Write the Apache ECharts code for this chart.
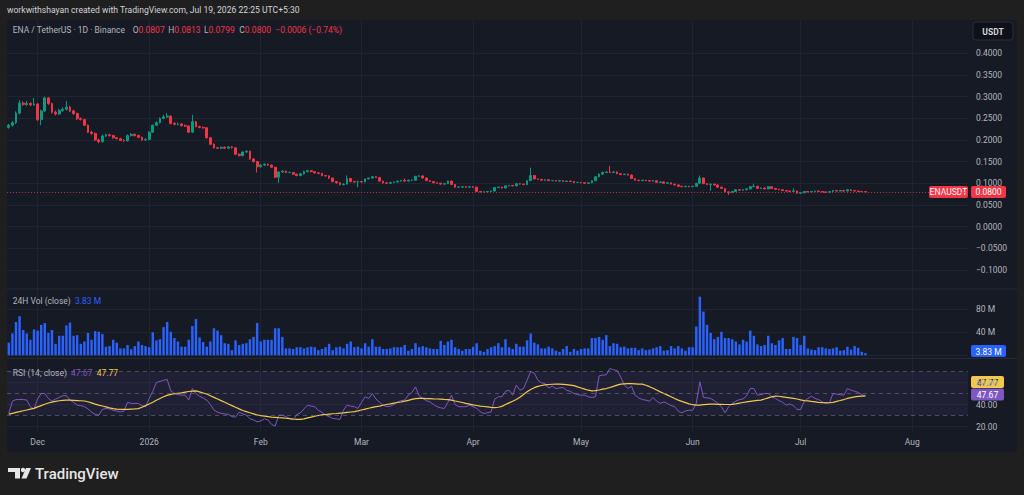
<!DOCTYPE html>
<html>
<head>
<meta charset="utf-8">
<title>ENA / TetherUS 1D</title>
<script src="https://cdn.jsdelivr.net/npm/echarts@6/dist/echarts.min.js"></script>
<style>
  html, body { margin: 0; padding: 0; background: #1f1f1f; }
  #main { width: 1024px; height: 495px; }
</style>
</head>
<body>
<div id="main"></div>
<script>
// daily candles, Nov 23 2025 -> Jul 19 2026
var opens = [
  .229,.234,.240,.262,.285,.282,.284,.281,.283,.247,
  .267,.297,.284,.264,.260,.268,.271,.276,.267,.261,
  .249,.247,.234,.218,.215,.200,.196,.209,.212,.210,
  .205,.203,.199,.198,.210,.213,.210,.206,.200,.201,
  .218,.234,.240,.250,.253,.255,.238,.236,.237,.233,
  .232,.218,.242,.231,.229,.228,.205,.190,.182,.181,
  .183,.181,.184,.182,.167,.164,.172,.174,.156,.150,
  .138,.142,.144,.142,.137,.114,.126,.128,.125,.125,
  .121,.118,.122,.127,.129,.127,.124,.123,.118,.117,
  .112,.104,.101,.097,.098,.111,.104,.103,.104,.103,
  .110,.112,.115,.113,.105,.101,.100,.102,.103,.105,
  .106,.105,.107,.107,.116,.117,.112,.106,.104,.101,
  .100,.098,.099,.105,.097,.091,.091,.092,.091,.092,
  .091,.081,.080,.080,.081,.082,.090,.091,.089,.094,
  .095,.094,.099,.098,.097,.106,.118,.110,.109,.107,
  .108,.106,.106,.105,.106,.104,.105,.104,.102,.102,
  .101,.100,.101,.106,.115,.121,.125,.126,.125,.126,
  .122,.120,.121,.119,.111,.107,.106,.107,.106,.105,
  .106,.102,.103,.100,.101,.098,.096,.093,.092,.093,
  .092,.093,.100,.112,.099,.097,.098,.096,.091,.088,
  .080,.079,.081,.085,.084,.085,.087,.092,.093,.088,
  .089,.087,.092,.088,.086,.085,.083,.082,.081,.082,
  .077,.078,.081,.080,.081,.082,.081,.080,.079,.081,
  .083,.082,.083,.082,.085,.083,.082,.081,.0807
];
var closes = [
  .234,.240,.262,.285,.282,.284,.281,.283,.247,.267,
  .297,.284,.264,.260,.268,.271,.276,.267,.261,.249,
  .247,.234,.218,.215,.200,.196,.209,.212,.210,.205,
  .203,.199,.198,.210,.213,.210,.206,.200,.201,.218,
  .234,.240,.250,.253,.255,.238,.236,.237,.233,.232,
  .218,.242,.231,.229,.228,.205,.190,.182,.181,.183,
  .181,.184,.182,.167,.164,.172,.174,.156,.150,.138,
  .142,.144,.142,.137,.114,.126,.128,.125,.125,.121,
  .118,.122,.127,.129,.127,.124,.123,.118,.117,.112,
  .104,.101,.097,.098,.111,.104,.103,.104,.103,.110,
  .112,.115,.113,.105,.101,.100,.102,.103,.105,.106,
  .105,.107,.107,.116,.117,.112,.106,.104,.101,.100,
  .098,.099,.105,.097,.091,.091,.092,.091,.092,.091,
  .081,.080,.080,.081,.082,.090,.091,.089,.094,.095,
  .094,.099,.098,.097,.106,.118,.110,.109,.107,.108,
  .106,.106,.105,.106,.104,.105,.104,.102,.102,.101,
  .100,.101,.106,.115,.121,.125,.126,.125,.126,.122,
  .120,.121,.119,.111,.107,.106,.107,.106,.105,.106,
  .102,.103,.100,.101,.098,.096,.093,.092,.093,.092,
  .093,.100,.112,.099,.097,.098,.096,.091,.088,.080,
  .079,.081,.085,.084,.085,.087,.092,.093,.088,.089,
  .087,.092,.088,.086,.085,.083,.082,.081,.082,.077,
  .078,.081,.080,.081,.082,.081,.080,.079,.081,.083,
  .082,.083,.082,.085,.083,.082,.081,.0807,.0800
];
var highs = [
  .237,.243,.266,.292,.289,.290,.287,.297,.285,.270,
  .300,.299,.286,.268,.272,.275,.290,.279,.270,.263,
  .252,.249,.236,.221,.217,.203,.212,.215,.214,.212,
  .207,.205,.202,.213,.216,.215,.212,.208,.204,.220,
  .236,.243,.252,.258,.262,.257,.241,.240,.239,.236,
  .234,.258,.244,.233,.231,.229,.207,.192,.184,.185,
  .185,.186,.186,.183,.169,.174,.176,.175,.158,.151,
  .144,.146,.145,.143,.138,.128,.130,.129,.127,.126,
  .122,.124,.129,.131,.130,.128,.125,.124,.119,.118,
  .113,.105,.102,.100,.118,.112,.105,.106,.105,.111,
  .113,.117,.116,.114,.106,.102,.103,.104,.106,.107,
  .111,.108,.109,.117,.119,.118,.113,.107,.105,.102,
  .101,.100,.106,.106,.098,.093,.093,.093,.093,.093,
  .092,.082,.081,.082,.083,.091,.092,.092,.095,.096,
  .096,.100,.100,.099,.107,.136,.119,.111,.110,.109,
  .109,.107,.107,.107,.107,.106,.106,.105,.103,.103,
  .102,.102,.107,.116,.123,.127,.128,.140,.128,.127,
  .123,.122,.122,.120,.112,.108,.108,.108,.107,.107,
  .107,.104,.104,.102,.102,.099,.097,.094,.094,.094,
  .094,.101,.118,.113,.100,.099,.099,.097,.092,.089,
  .081,.082,.086,.086,.086,.088,.093,.099,.094,.090,
  .090,.093,.093,.089,.087,.086,.084,.083,.088,.083,
  .079,.082,.082,.082,.083,.083,.082,.081,.082,.084,
  .084,.084,.084,.086,.086,.084,.083,.0815,.0813
];
var lows = [
  .226,.231,.237,.259,.279,.279,.278,.279,.244,.234,
  .264,.281,.261,.257,.258,.265,.268,.264,.258,.246,
  .245,.232,.216,.212,.198,.192,.194,.207,.208,.203,
  .201,.197,.196,.196,.208,.208,.204,.198,.198,.199,
  .216,.232,.238,.248,.251,.236,.234,.234,.231,.230,
  .216,.216,.229,.227,.226,.203,.188,.180,.179,.179,
  .179,.179,.180,.165,.162,.162,.170,.154,.148,.125,
  .136,.140,.140,.135,.112,.101,.124,.123,.123,.119,
  .116,.116,.120,.125,.125,.122,.121,.116,.115,.110,
  .102,.099,.095,.095,.097,.102,.101,.091,.101,.102,
  .109,.111,.112,.103,.099,.098,.099,.101,.102,.104,
  .104,.104,.105,.106,.115,.111,.105,.103,.100,.099,
  .097,.097,.098,.096,.090,.090,.090,.090,.090,.090,
  .080,.079,.079,.079,.080,.081,.089,.088,.088,.093,
  .093,.093,.097,.096,.096,.105,.109,.108,.106,.106,
  .105,.105,.104,.104,.103,.103,.103,.100,.101,.100,
  .099,.099,.100,.105,.114,.120,.124,.124,.124,.121,
  .119,.119,.118,.110,.106,.105,.105,.105,.104,.104,
  .101,.101,.099,.099,.097,.095,.092,.091,.091,.091,
  .091,.092,.099,.098,.096,.083,.095,.090,.087,.079,
  .073,.078,.080,.083,.083,.084,.086,.091,.087,.087,
  .086,.086,.087,.085,.084,.082,.081,.080,.080,.076,
  .076,.077,.079,.079,.080,.080,.079,.078,.078,.080,
  .081,.081,.081,.081,.082,.081,.080,.0800,.0799
];
// 24H volume, millions USDT
var volumes = [
  22,38,58,68,44,38,27,45,43,53,
  56,39,44,20,34,34,52,57,34,35,
  20,24,39,27,42,41,37,15,16,27,
  22,12,12,18,10.6,16,24,18,16,14,
  40,26,28,49,58,41,30,24,15,15,
  27,51,63,31,23,15,24,47,43,35,
  21,20,9,26,18,20,21,28,32,56,
  24,27,27,27,47,47,32,12,12,11,
  14,14,12,14,15,14,9,11,14,20,
  9,14,15,12,20,24,14,15,12,21,
  15,28,15,15,11,11,12,14,14,14,
  18,8,11,21,14,16,14,12,11,11,
  25,18,24,27,14,11,8,11,11,15,
  21,8,6,11,14,16,21,14,28,14,
  11,20,15,15,26,38,22,19,12,12,
  15,12,8,6,11,16,6,11,8,11,
  12,12,30,30,32,27,35,16,21,20,
  14,15,12,13,13,9,12,9,10,12,
  14,16,8,9,16,12,16,12,8,14,
  14,50,102,76,53,39,28,32,41,30,
  30,28,24,19,27,24,43,34,19,16,
  18,34,21,18,26,30,11,11,32,30,
  18,34,12,10,9,14,14,12,11,12,
  14,8,9,15,10,16,13,6,3.83
];
var rsi = [
  32,43,44.5,44.5,44.5,44,38,36,45,50,
  50,45.5,43,45,46.5,48,48,44,42,39.4,
  39,38,36,33,31,30.3,35.5,36.4,36,34.8,
  34,33.3,34,42,41,41,41,39,38,45.5,
  52,60,61,62,62.7,52.4,50,49,48.5,48.5,
  44,54.5,50,47.5,46,44,40,35,33,32,
  31.5,31,29,28.5,33,31.5,30.3,27,26,24.2,
  25,27,26,22,20.3,30.3,30.3,29,27.3,26,
  31,32.4,36,39.4,38.5,38,34.8,33,30.3,29,
  27.3,27,26.4,35,39.4,38.5,38,36.4,42,47,
  45.5,50,45,42,39.4,38,38.5,40,42.4,43.5,
  44,48.5,51,56,48,45.5,43.5,42.4,40,38,
  37,36.4,42,48.5,40,38,38,38,39.4,38,
  36.4,33.5,31.8,32.5,33.3,45,47,47,52,53,
  48.5,57.6,53,54.5,62,70,68.5,62,59.7,59,
  55,56.7,54.5,55,55.5,53,52,50,49,48.5,
  48.5,47,46.4,47,66,66.7,67,72.7,71.5,71,
  65,58,54.5,56.7,48.5,46,44.5,44,43,46.4,
  43,41,42.4,41,39,38,34,32.4,34.2,34.8,
  34.8,41,60.6,46.4,46,45.5,43.5,41,38,32.5,
  38,41,43,44.5,45,48,54.5,54.5,48.5,49,
  50,50,47,45.5,43.5,42,39.4,40.5,39,35.5,
  35.5,43,45.5,47.6,45.5,44.5,42.4,41.5,41.5,50,
  49.4,49,48.5,54.5,53,52,51,49,47.67
];
var rsiMa = [
  31.2,32,32.8,33.5,34.3,35,35.8,36.5,37.8,39,
  40.2,41.4,42.2,42.8,43.4,43.8,44,44,43.8,43.6,
  43.4,43.2,42.5,41.5,40.3,39.4,38.6,37.8,37,36.3,
  35.8,35.5,35.5,35.6,35.8,36,36.3,37.5,39,40.5,
  42,43.8,45.5,47,48.3,49.2,49.8,50.2,50.6,51.2,
  51.8,52.2,52.4,51.5,50.5,49.5,48,46.5,45,43.5,
  42,40.5,39,37.5,36,34.5,33.5,32.5,31.5,30.5,
  29.8,29.4,29,28.6,28.3,28,27.8,27.5,27.2,26.8,
  26.5,26.4,27,27.8,28.5,29.3,30,30.5,30.9,31.3,
  31.6,31.8,32.1,32.4,32.8,33.2,33.5,34.2,35,35.8,
  36.6,37.4,38,38.6,39.3,40,40.6,41.3,41.8,42.3,
  43,43.8,44.6,45.3,45.5,45.5,45.4,45.3,45.1,45,
  44.8,44.6,44.5,44,43.2,42.5,41.8,41,40.3,39.6,
  39.1,38.6,38.2,37.8,37.4,37.2,37.5,38.3,40,41.5,
  43,44.5,46.5,49,51.5,53.6,55.3,56.5,57.3,57.8,
  58.2,58.4,58.5,58.5,58.3,58,57.6,57.2,56,55,
  54,53,52.4,52.6,53.2,54,54.5,55.5,56.5,57.6,
  58.5,58.8,59,59,58.8,58.5,58.5,57.5,56.2,54.8,
  53.2,51.5,50,48.5,47,45.5,44,42.8,41.7,40.6,
  39.8,39.4,39.5,39.8,40.1,40.3,40.3,40.2,40.1,40,
  40,40.2,40.6,41.2,41.8,42.4,42.9,43.3,43.7,44,
  45,46,47,47.6,47.5,47,46.5,46,45.5,45,
  44.2,43.6,43.3,42.8,42.4,42,41.7,41.5,41.6,42,
  42.8,43.6,44.5,45.5,46.3,47,47.4,47.6,47.77
];

// time scale runs a few weeks past the last candle
var firstDay = Date.UTC(2025, 10, 23);
var dayCount = 267;
var monthNames = ["Jan","Feb","Mar","Apr","May","Jun","Jul","Aug","Sep","Oct","Nov","Dec"];
var days = [];
for (var k = 0; k < dayCount; k++) {
  days.push(new Date(firstDay + k * 86400000).toISOString().slice(0, 10));
}

var UP = "#089981", DOWN = "#f23645", VOL = "#2962ff", PURPLE = "#7e57c2", YELLOW = "#f2c94c";
var TXT = "#b2b5be", GRIDC = "#1f2431", FONT = "Roboto, 'Noto Sans', sans-serif";

function isMonthStart(idx, val) { return val.slice(8) === "01"; }
function monthLabel(val) {
  var m = +val.slice(5, 7);
  return m === 1 ? val.slice(0, 4) : monthNames[m - 1];
}
function minus(v, digits) {
  return (v < -1e-9 ? "\u2212" : "") + Math.abs(v).toFixed(digits);
}

var candleData = closes.map(function (c, i) { return [opens[i], c, lows[i], highs[i]]; });
var volData = volumes.map(function (v) { return v * 1e6; });

var chartDom = document.getElementById("main");
var chart = echarts.init(chartDom, null, { renderer: "svg" });

function hiddenX(gi, extra) {
  return Object.assign({
    type: "category", gridIndex: gi, data: days, boundaryGap: true,
    axisLine: { show: false }, axisTick: { show: false }, axisLabel: { show: false },
    splitLine: { show: false }
  }, extra || {});
}

var option = {
  animation: false,
  backgroundColor: "#1f1f1f",
  textStyle: { fontFamily: FONT },
  grid: [
    { left: 7, right: 56, top: 31.7, height: 259.8, outerBoundsMode: "none" },
    { left: 7, right: 56, top: 286.3, height: 69, outerBoundsMode: "none" },
    { left: 7, right: 56, top: 360.5, height: 66, outerBoundsMode: "none" },
    { left: 7, right: 56, top: 20, height: 412, outerBoundsMode: "none" }
  ],
  xAxis: [
    hiddenX(0),
    hiddenX(1),
    hiddenX(2, {
      axisLabel: {
        show: true, interval: isMonthStart, formatter: monthLabel,
        color: TXT, fontSize: 8.5, margin: 11, fontFamily: FONT
      }
    }),
    hiddenX(3, {
      splitLine: { show: true, interval: isMonthStart, alignWithLabel: true, lineStyle: { color: GRIDC, width: 1 } }
    })
  ],
  yAxis: [
    {
      type: "value", gridIndex: 0, position: "right", min: -0.15, max: 0.45, interval: 0.05,
      axisLine: { show: false }, axisTick: { show: false },
      axisLabel: {
        color: TXT, fontSize: 8.5, margin: 8, fontFamily: FONT,
        showMinLabel: false, showMaxLabel: false,
        formatter: function (v) { return minus(v, 4); }
      },
      splitLine: { show: true, showMinLine: false, showMaxLine: false, lineStyle: { color: GRIDC } }
    },
    {
      type: "value", gridIndex: 1, position: "right", min: 0, max: 120e6, interval: 40e6,
      axisLine: { show: false }, axisTick: { show: false },
      axisLabel: {
        color: TXT, fontSize: 8.5, margin: 8, fontFamily: FONT,
        showMinLabel: false, showMaxLabel: false,
        formatter: function (v) { return Math.round(v / 1e6) + " M"; }
      },
      splitLine: { show: true, showMinLine: true, showMaxLine: false, lineStyle: { color: GRIDC } }
    },
    {
      type: "value", gridIndex: 2, position: "right", min: 20, max: 80, interval: 20,
      axisLine: { show: false }, axisTick: { show: false },
      axisLabel: {
        color: TXT, fontSize: 8.5, margin: 8, fontFamily: FONT,
        showMaxLabel: false,
        formatter: function (v) { return v.toFixed(2); }
      },
      splitLine: { show: true, showMinLine: true, showMaxLine: false, lineStyle: { color: GRIDC } }
    },
    { type: "value", gridIndex: 3, show: false }
  ],
  series: [
    {
      name: "ENAUSDT", type: "candlestick", xAxisIndex: 0, yAxisIndex: 0,
      data: candleData, barWidth: "62%",
      itemStyle: { color: UP, color0: DOWN, borderColor: UP, borderColor0: DOWN, borderWidth: 1 },
      markLine: {
        silent: true, symbol: ["none", "none"], label: { show: false },
        lineStyle: { color: DOWN, type: [1, 2], width: 1, opacity: 0.75 },
        data: [{ yAxis: closes[closes.length - 1] }]
      }
    },
    {
      name: "24H Vol", type: "bar", xAxisIndex: 1, yAxisIndex: 1,
      data: volData, barWidth: "68%", itemStyle: { color: VOL }
    },
    {
      name: "RSI", type: "line", xAxisIndex: 2, yAxisIndex: 2, data: rsi,
      symbol: "none", lineStyle: { color: PURPLE, width: 1 }, z: 3,
      markArea: {
        silent: true, itemStyle: { color: "rgba(126,87,194,0.1)" },
        data: [[{ yAxis: 70 }, { yAxis: 30 }]]
      },
      markLine: {
        silent: true, symbol: ["none", "none"], label: { show: false },
        lineStyle: { color: "#787b86", type: [4, 4], width: 1, opacity: 0.55 },
        data: [{ yAxis: 70 }, { yAxis: 50 }, { yAxis: 30 }]
      }
    },
    {
      name: "RSI MA", type: "line", xAxisIndex: 2, yAxisIndex: 2, data: rsiMa,
      symbol: "none", lineStyle: { color: YELLOW, width: 1.2 }, z: 4
    }
  ]
};
chart.setOption(option);

// overlays: panel, legends, price-scale badges
var last = closes.length - 1;
var yPrice = chart.convertToPixel({ yAxisIndex: 0 }, closes[last]);
var yVol = chart.convertToPixel({ yAxisIndex: 1 }, volData[last]);
var yRsi = chart.convertToPixel({ yAxisIndex: 2 }, rsi[last]);

function badge(y, w, text, bg, fg, x) {
  return {
    type: "group", x: x || 971, y: y - 6, z: 60,
    children: [
      { type: "rect", shape: { x: 0, y: 0, width: w, height: 12, r: 2 }, style: { fill: bg } },
      { type: "text", x: w / 2, y: 6.5, style: { text: text, fill: fg, fontSize: 8.5, fontFamily: FONT, align: "center", verticalAlign: "middle" } }
    ]
  };
}
function label(x, y, parts, size) {
  var rich = {}, str = "";
  parts.forEach(function (p, i) {
    rich["p" + i] = { fill: p[1], fontSize: size, fontFamily: FONT };
    str += "{p" + i + "|" + p[0] + "}";
  });
  return { type: "text", x: x, y: y, z: 60, style: { text: str, rich: rich, verticalAlign: "middle" } };
}

chart.setOption({
  graphic: [
    { type: "rect", z: -10, shape: { x: 7, y: 20, width: 1010, height: 432, r: 3 }, style: { fill: "#161a25" } },
    { type: "line", z: 1, shape: { x1: 7, y1: 289, x2: 1017, y2: 289 }, style: { stroke: "#262a36", lineWidth: 1 } },
    { type: "line", z: 1, shape: { x1: 7, y1: 358.5, x2: 1017, y2: 358.5 }, style: { stroke: "#262a36", lineWidth: 1 } },
    label(7, 10, [["workwithshayan created with TradingView.com, Jul 19, 2026 22:25 UTC+5:30", "#d1d4dc"]], 8.6),
    label(12.7, 30, [["ENA / TetherUS \u00b7 1D \u00b7 Binance", TXT]], 8.5),
    label(132.7, 30, [["O", TXT], ["0.0807", DOWN]], 8.5),
    label(168.3, 30, [["H", TXT], ["0.0813", DOWN]], 8.5),
    label(204, 30, [["L", TXT], ["0.0799", DOWN]], 8.5),
    label(239.3, 30, [["C", TXT], ["0.0800", DOWN]], 8.5),
    label(275.3, 30, [["\u22120.0006 (\u22120.74%)", DOWN]], 8.5),
    label(12.7, 300.5, [["24H Vol (close)  ", TXT], ["3.83 M", VOL]], 8.5),
    label(12.7, 372.5, [["RSI (14, close)  ", TXT], ["47.67", PURPLE], ["  ", TXT], ["47.77", YELLOW]], 8.5),
    {
      type: "group", x: 973, y: 22, z: 60,
      children: [
        { type: "rect", shape: { x: 0, y: 0, width: 40, height: 18, r: 3 }, style: { fill: "#0e1118", stroke: "#2a2e39", lineWidth: 1 } },
        { type: "text", x: 20, y: 9.5, style: { text: "USDT", fill: "#d1d4dc", fontSize: 8.5, fontWeight: "bold", fontFamily: FONT, align: "center", verticalAlign: "middle" } }
      ]
    },
    badge(yPrice, 39, "ENAUSDT", DOWN, "#ffffff", 929),
    badge(yPrice, 35, "0.0800", DOWN, "#ffffff"),
    badge(yVol - 2, 35, "3.83 M", VOL, "#ffffff"),
    badge(yRsi - 1.5, 33, "47.67", PURPLE, "#ffffff"),
    badge(yRsi - 14, 33, "47.77", YELLOW, "#131722"),
    // TradingView mark
    { type: "polygon", z: 60, shape: { points: [[8, 468], [20, 468], [20, 478.5], [15, 478.5], [15, 472], [8, 472]] }, style: { fill: "#e6e6e6" } },
    { type: "circle", z: 60, shape: { cx: 23, cy: 470, r: 2.2 }, style: { fill: "#e6e6e6" } },
    { type: "polygon", z: 60, shape: { points: [[26, 468], [31, 468], [26.5, 478.5], [21.5, 478.5]] }, style: { fill: "#e6e6e6" } },
    { type: "text", x: 35, y: 473.5, z: 60, style: { text: "TradingView", fill: "#e6e6e6", fontSize: 15, fontWeight: 500, fontFamily: FONT, verticalAlign: "middle" } }
  ]
});
</script>
</body>
</html>
